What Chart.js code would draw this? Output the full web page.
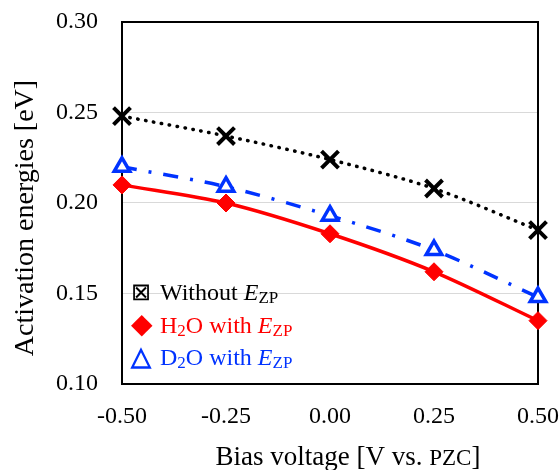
<!DOCTYPE html>
<html lang="en">
<head>
    <meta charset="UTF-8">
    <title>Activation energies</title>
    <script src="https://cdn.jsdelivr.net/npm/chart.js"></script>
    <style>
        body { margin: 0; background: #fff; }
        #wrap { position: relative; width: 560px; height: 470px; }
        #legend {
            position: absolute; left: 131px; top: 276px;
            font-family: "Liberation Serif", serif; font-size: 24px; line-height: 32.5px;
        }
        #legend .row { white-space: nowrap; height: 32.5px; }
        #legend .mk { display: inline-block; width: 20px; margin-right: 9px; text-align: center; line-height: 0; }
        #legend .mk1 { font-size: 28px; }
        #legend .mk2 { font-size: 26px; font-weight: bold; }
        #legend sub { font-size: 17px; vertical-align: -3px; line-height: 0; }
        #legend i { font-style: italic; }
    </style>
</head>
<body>
<div id="wrap">
    <canvas id="chart" width="560" height="470"></canvas>
    <div id="legend"></div>
</div>
<script>
    // bias voltage (V vs. PZC)
    const voltages = [-0.50, -0.25, 0.00, 0.25, 0.50];
    const withoutZP = [0.248, 0.237, 0.224, 0.208, 0.185];
    const h2oZP = [0.210, 0.200, 0.183, 0.162, 0.135];
    const d2oZP = [0.220, 0.209, 0.193, 0.174, 0.148];
    const seriesNames = ['Without <i>E</i><sub>ZP</sub>', 'H<sub>2</sub>O with <i>E</i><sub>ZP</sub>', 'D<sub>2</sub>O with <i>E</i><sub>ZP</sub>'];
    const seriesMarks = ['&#8864;', '&#9670;', '&#9651;'];
    const seriesColors = ['#000000', '#ff0000', '#0033ff'];
    const xTitle = ['Bias voltage [V vs. ', 'PZC', ']'];   // middle part in small caps
    const yTitle = 'Activation energies [eV]';

    const serif = 'Liberation Serif';

    function pts(ys) {
        return voltages.map((x, i) => ({ x: x, y: ys[i] }));
    }

    // box round the plot area
    const frame = {
        id: 'frame',
        beforeDatasetsDraw(chart) {
            const a = chart.chartArea, c = chart.ctx;
            c.save();
            c.strokeStyle = '#000';
            c.lineWidth = 2;
            c.strokeRect(a.left, a.top, a.right - a.left, a.bottom - a.top);
            c.restore();
        }
    };

    // axis titles drawn by hand so PZC can be small caps
    const axisTitles = {
        id: 'axisTitles',
        afterDraw(chart) {
            const a = chart.chartArea, c = chart.ctx;
            const sizes = [27, 23, 27];
            c.save();
            c.fillStyle = '#000';
            c.textBaseline = 'alphabetic';
            c.textAlign = 'left';
            let total = 0;
            const w = xTitle.map((t, i) => {
                c.font = sizes[i] + 'px "' + serif + '"';
                const m = c.measureText(t).width;
                total += m;
                return m;
            });
            let x = (a.left + a.right) / 2 + 18 - total / 2;
            xTitle.forEach((t, i) => {
                c.font = sizes[i] + 'px "' + serif + '"';
                c.fillText(t, x, 465);
                x += w[i];
            });
            c.translate(33, (a.top + a.bottom) / 2 + 15);
            c.rotate(-Math.PI / 2);
            c.textAlign = 'center';
            c.font = '28px "' + serif + '"';
            c.fillText(yTitle, 0, 0);
            c.restore();
        }
    };

    const ctx = document.getElementById('chart').getContext('2d');
    const chart = new Chart(ctx, {
        type: 'line',
        data: {
            datasets: [{
                label: 'Without E_ZP',
                data: pts(withoutZP),
                borderColor: seriesColors[0],
                borderWidth: 3.5,
                borderDash: [0.5, 7.5],
                borderCapStyle: 'round',
                tension: 0.3,
                clip: false,
                pointStyle: 'crossRot',
                pointRadius: 12,
                pointBorderWidth: 4,
                pointBorderColor: '#000'
            }, {
                label: 'H2O with E_ZP',
                data: pts(h2oZP),
                borderColor: seriesColors[1],
                borderWidth: 3.5,
                tension: 0.3,
                clip: false,
                pointStyle: 'rectRot',
                pointRadius: 9,
                pointBorderWidth: 1,
                pointBackgroundColor: seriesColors[1],
                pointBorderColor: seriesColors[1]
            }, {
                label: 'D2O with E_ZP',
                data: pts(d2oZP),
                borderColor: seriesColors[2],
                borderWidth: 3.5,
                borderDash: [15, 12, 3, 12],
                tension: 0.3,
                clip: false,
                pointStyle: 'triangle',
                pointRadius: 9,
                pointBorderWidth: 3.5,
                pointBackgroundColor: '#fff',
                pointBorderColor: seriesColors[2]
            }]
        },
        options: {
            responsive: false,
            animation: false,
            layout: { padding: { left: 0, right: 22, top: 22, bottom: 0 } },
            plugins: { legend: { display: false }, tooltip: { enabled: false } },
            scales: {
                x: {
                    type: 'linear',
                    min: -0.5, max: 0.5,
                    // invisible tick marks keep the label gap out of the auto padding
                    grid: { display: false, drawTicks: true, tickLength: 18 },
                    border: { display: true, color: '#000', width: 2 },
                    ticks: {
                        stepSize: 0.25, padding: 0, color: '#000',
                        font: { family: serif, size: 24 },
                        callback: v => v.toFixed(2)
                    },
                    afterFit: s => { s.height = 86; }
                },
                y: {
                    min: 0.10, max: 0.30,
                    grid: { color: '#d9d9d9', lineWidth: 1, drawTicks: true, tickLength: 24, tickColor: 'rgba(0,0,0,0)' },
                    border: { display: true, color: '#000', width: 2 },
                    ticks: {
                        stepSize: 0.05, padding: 0, color: '#000',
                        font: { family: serif, size: 24 },
                        callback: v => v.toFixed(2)
                    },
                    afterFit: s => { s.width = 122; }
                }
            }
        },
        plugins: [frame, axisTitles]
    });

    // legend with subscripts, built from the series lists
    document.getElementById('legend').innerHTML = seriesNames.map((n, i) =>
        '<div class="row" style="color:' + seriesColors[i] + '"><span class="mk mk' + i + '">' + seriesMarks[i] + '</span>' + n + '</div>'
    ).join('');
</script>
</body>
</html>
